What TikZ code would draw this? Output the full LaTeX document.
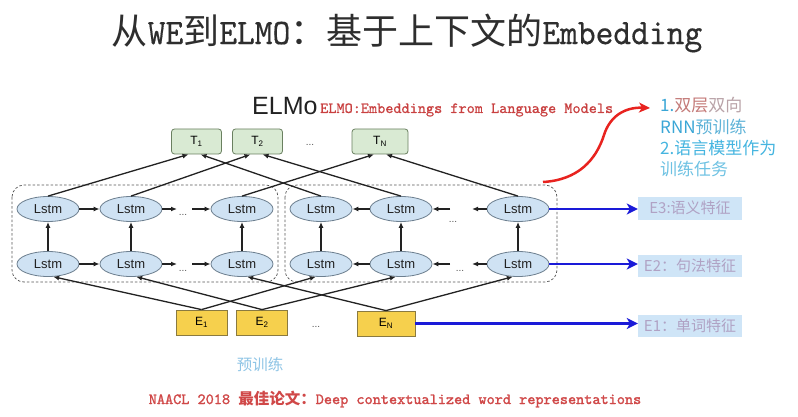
\documentclass[tikz,border=0pt]{standalone}
\usepackage{fontspec}
\setmainfont{Liberation Sans}
\newfontfamily\cjk{Noto Sans CJK SC}
\newfontfamily\lmTitle[FakeStretch=0.94,FakeBold=0.4]{lmmono10-regular.otf}
\newfontfamily\lmSub[FakeBold=0.7]{lmmono10-regular.otf}
\newfontfamily\lmBold[FakeBold=1.6]{lmmono10-regular.otf}
\usetikzlibrary{arrows.meta,calc,shapes.geometric}
\definecolor{titlegray}{HTML}{2E2E2E}
\definecolor{lstmfill}{HTML}{CFE2F3}
\definecolor{lstmborder}{HTML}{6D7F8F}
\definecolor{tfill}{HTML}{D9EAD3}
\definecolor{tborder}{HTML}{6A8060}
\definecolor{efill}{HTML}{F6D04D}
\definecolor{eborder}{HTML}{8A7A40}
\definecolor{linecol}{HTML}{222222}
\definecolor{dotgray}{HTML}{555555}
\definecolor{bluearr}{HTML}{1A1AD8}
\definecolor{redarrow}{HTML}{E8231F}
\definecolor{subred}{HTML}{C94040}
\definecolor{botred}{HTML}{D04848}
\definecolor{featfill}{HTML}{CFE5F7}
\definecolor{feattext}{HTML}{B0A2C4}
\definecolor{pretrain}{HTML}{8FC5E6}
\definecolor{cyanA}{HTML}{3AA6D6}
\definecolor{cyanB}{HTML}{5FB3D8}
\definecolor{cyanC}{HTML}{45B5E0}
\definecolor{cyanD}{HTML}{6EC2E3}
\definecolor{roseA}{HTML}{C47A78}
\definecolor{roseB}{HTML}{B9A3A8}
\newcommand\TitleLatin[1]{{\lmTitle\fontsize{36}{40}\selectfont #1}}
\newcommand\BoldMono[1]{{\lmBold #1}}
\begin{document}
\begin{tikzpicture}[x=1pt,y=-1pt,
  lstm/.style={ellipse, draw=lstmborder, fill=lstmfill, line width=0.8pt,
    minimum width=62pt, minimum height=25pt, inner sep=0pt,
    font=\fontsize{13}{13}\selectfont, text=linecol},
  tbox/.style={rectangle, rounded corners=3pt, draw=tborder, fill=tfill, line width=0.8pt,
    minimum width=50pt, minimum height=25pt, inner sep=0pt, font=\fontsize{12}{12}\selectfont},
  ebox/.style={rectangle, draw=eborder, fill=efill, line width=0.8pt,
    minimum width=51pt, minimum height=25pt, inner sep=0pt, font=\fontsize{12}{12}\selectfont},
  feat/.style={rectangle, fill=featfill, minimum width=104pt, minimum height=23pt,
    inner sep=0pt, text=feattext, font=\cjk\fontsize{15}{15}\selectfont},
  dots/.style={inner sep=0pt, text=dotgray, font=\fontsize{10}{10}\selectfont},
  arr/.style={-{Latex[length=6pt,width=5pt]}, line width=1.3pt, draw=linecol},
  barr/.style={-{Stealth[length=11pt,width=11pt,inset=3pt]}, line width=2.5pt, draw=bluearr},
  rarr/.style={-{Stealth[length=11pt,width=10pt,inset=3pt]}, line width=2.5pt, draw=redarrow},
  dashbox/.style={draw=dotgray, dash pattern=on 2.5pt off 2pt, line width=0.7pt, rounded corners=12pt},
  side/.style={anchor=west, inner sep=0pt, font=\cjk\fontsize{17}{17}\selectfont}]
\fill[white] (0,0) rectangle (798,417);
\useasboundingbox (0,0) rectangle (798,417);

% title
\node[inner sep=0pt, text=titlegray, font=\cjk\fontsize{36}{40}\selectfont] (title) at (407,33)
  {从\TitleLatin{WE}到\TitleLatin{ELMO}：基于上下文的\TitleLatin{Embedding}};

\node[anchor=base west, inner sep=0pt, text=linecol, font=\fontsize{25}{25}\selectfont] (elmo) at (252,115) {ELMo};
\node[anchor=base west, inner sep=0pt, text=subred, font=\lmSub\fontsize{15.5}{16}\selectfont] (sub) at (320,113)
  {ELMO:Embeddings from Language Models};

% dashed groups
\draw[dashbox] (12,185) rectangle (278,282);
\draw[dashbox] (285,185) rectangle (557,282);

% T nodes
\node[tbox] (T1) at (196.5,141.5) {T\textsubscript{1}};
\node[tbox] (T2) at (257.5,141.5) {T\textsubscript{2}};
\node[tbox, minimum width=56pt] (TN) at (380,141.5) {T\textsubscript{N}};
\node[dots] (dT) at (310,145) {...};

% Lstm nodes
\node[lstm] (L1) at (48,209) {Lstm};
\node[lstm] (L2) at (131,209) {Lstm};
\node[lstm] (L3) at (242,209) {Lstm};
\node[lstm] (R1) at (321,209) {Lstm};
\node[lstm] (R2) at (401,209) {Lstm};
\node[lstm] (R3) at (518,209) {Lstm};
\node[lstm] (L1b) at (48,264) {Lstm};
\node[lstm] (L2b) at (131,264) {Lstm};
\node[lstm] (L3b) at (242,264) {Lstm};
\node[lstm] (R1b) at (321,264) {Lstm};
\node[lstm] (R2b) at (401,264) {Lstm};
\node[lstm] (R3b) at (518,264) {Lstm};
\node[dots] (dL) at (183,215) {...};
\node[dots] (dLb) at (183,271) {...};
\node[dots] (dR) at (453,222) {...};
\node[dots] (dRb) at (460,271) {...};

% E nodes
\node[ebox] (E1) at (201.5,322.5) {E\textsubscript{1}};
\node[ebox] (E2) at (262,322.5) {E\textsubscript{2}};
\node[ebox, minimum width=58pt] (EN) at (386,323.5) {E\textsubscript{N}};
\node[dots] (dE) at (316,327) {...};

% feature boxes
\node[feat] (F3) at (690,208) {E3:语义特征};
\node[feat, minimum height=22pt] (F2) at (690,266) {E2：句法特征};
\node[feat, minimum height=22pt] (F1) at (690,326) {E1：单词特征};

% right notes
\node[side] (n1) at (660,105) {\textcolor{cyanA}{1.}\textcolor{roseA}{双层}\textcolor{roseB}{双向}};
\node[side] (n2) at (660,127) {\textcolor{cyanA}{RNN}\textcolor{cyanB}{预训练}};
\node[side, text=cyanC] (n3) at (660,148) {2.语言模型作为};
\node[side, text=cyanD] (n4) at (660,169) {训练任务};

% bottom texts
\node[inner sep=0pt, text=pretrain, font=\cjk\fontsize{15.5}{16}\selectfont] (pre) at (260,365) {预训练};
\node[inner sep=0pt, text=botred, font=\fontsize{15.5}{16}\selectfont\bfseries] (paper) at (395,399)
  {\BoldMono{NAACL 2018 }{\cjk 最佳论文：}\BoldMono{Deep contextualized word representations}};

% horizontal arrows, forward
\coordinate (aL1) at (177,209);
\coordinate (aL2) at (192,209);
\coordinate (aL1b) at (177,264);
\coordinate (aL2b) at (192,264);
\draw[arr] (L1) -- (L2);
\draw[arr] (L2) -- (aL1);
\draw[arr] (aL2) -- (L3);
\draw[arr] (L1b) -- (L2b);
\draw[arr] (L2b) -- (aL1b);
\draw[arr] (aL2b) -- (L3b);
% backward
\coordinate (aR1) at (450,209);
\coordinate (aR2) at (472,209);
\coordinate (aR1b) at (450,264);
\coordinate (aR2b) at (472,264);
\draw[arr] (R2) -- (R1);
\draw[arr] (aR1) -- (R2);
\draw[arr] (R3) -- (aR2);
\draw[arr] (R2b) -- (R1b);
\draw[arr] (aR1b) -- (R2b);
\draw[arr] (R3b) -- (aR2b);

% vertical arrows
\foreach \n in {L1,L2,L3,R1,R2,R3}{
  \draw[arr] (\n b.north) -- (\n.south);
}

% E to first layer
\draw[arr] (E1.north) -- (L1b.-68);
\draw[arr] (E1.north) -- (R1b.-112);
\draw[arr] (E2.north) -- (L2b.-68);
\draw[arr] (E2.north) -- (R2b.-112);
\draw[arr] (EN.north) -- (L3b.-68);
\draw[arr] (EN.north) -- (R3b.-112);

% second layer to T
\draw[arr] (L1.north) -- ($(T1.south)+(-8,0)$);
\draw[arr] (R1.north) -- ($(T1.south)+(4,0)$);
\draw[arr] (L2.north) -- ($(T2.south)+(-7,0)$);
\draw[arr] (R2.north) -- ($(T2.south)+(5,0)$);
\draw[arr] (L3.north) -- ($(TN.south)+(-6,0)$);
\draw[arr] (R3.north) -- ($(TN.south)+(6,0)$);

% blue arrows
\draw[barr] (R3.east) -- (R3.east -| F3.west);
\draw[barr] (R3b.east) -- (R3b.east -| F2.west);
\draw[barr] (EN.east) -- (EN.east -| F1.west);

% red curved arrow
\coordinate (rs) at (543,182);
\coordinate (re) at (650,108);
\draw[rarr] (rs) .. controls (578,180) and (596,160) .. (604,135)
  .. controls (610,116) and (625,107) .. (re);
\end{tikzpicture}
\end{document}
